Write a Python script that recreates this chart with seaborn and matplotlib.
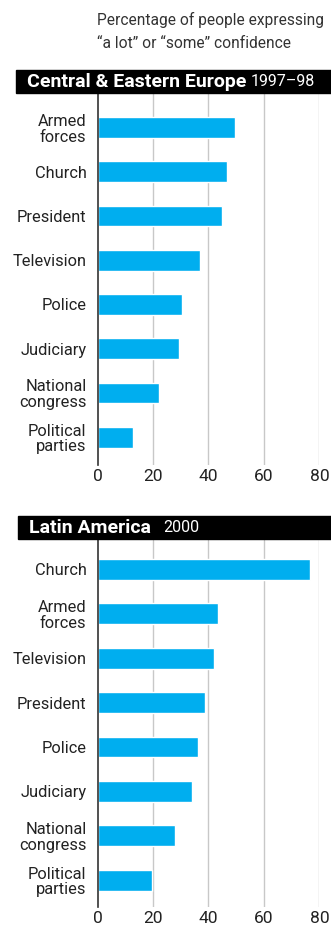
import matplotlib
matplotlib.use("Agg")
import matplotlib.pyplot as plt
import seaborn as sns
import pandas as pd
from matplotlib.patches import Rectangle

# ---- data ----
cee_labels = ["Armed\nforces", "Church", "President", "Television", "Police",
              "Judiciary", "National\ncongress", "Political\nparties"]
cee_values = [49.5, 46.7, 44.8, 36.9, 30.5, 29.4, 22.2, 12.8]

la_labels = ["Church", "Armed\nforces", "Television", "President", "Police",
             "Judiciary", "National\ncongress", "Political\nparties"]
la_values = [76.5, 43.4, 41.9, 38.7, 36.2, 34.0, 27.9, 19.8]

x_ticks = [0, 20, 40, 60, 80]
subtitle = "Percentage of people expressing\n\u201ca lot\u201d or \u201csome\u201d confidence"
titles = [("Central & Eastern Europe", "1997\u201398"), ("Latin America", "2000")]

BAR = "#00AEEF"
W, H = 331, 926

sns.set_theme(style="white")
plt.rcParams["font.family"] = ["Roboto", "DejaVu Sans"]

fig = plt.figure(figsize=(W / 100, H / 100), dpi=100)

def fy(p):
    return 1 - p / H

def fx(p):
    return p / W

left = fx(97.5)
right = fx(319.5)

panels = [
    (cee_labels, cee_values, 93, 465, (7.63, -0.78), 70, 16, 4),
    (la_labels, la_values, 540, 907, (7.6, -0.66), 516, 18, 12),
]

for i, (labels, values, top, bot, ylim, bar_top, bar_left, gap) in enumerate(panels):
    ax = fig.add_axes([left, fy(bot), right - left, fy(top) - fy(bot)])
    df = pd.DataFrame({"label": labels, "value": values})
    sns.barplot(data=df, y="label", x="value", orient="h", color=BAR,
                width=0.47, saturation=1, ax=ax, zorder=3)
    ax.set_xlim(0, 80)
    ax.set_ylim(*ylim)
    ax.set_xticks(x_ticks)
    ax.set_xlabel("")
    ax.set_ylabel("")
    for x in x_ticks[1:]:
        ax.axvline(x, color="#c8c8c8", lw=1.0, zorder=1)
    for s in ["top", "right", "bottom"]:
        ax.spines[s].set_visible(False)
    ax.spines["left"].set_color("#333333")
    ax.spines["left"].set_linewidth(1.2)
    ax.spines["left"].set_zorder(4)
    ax.tick_params(axis="y", length=0, labelsize=11.8, colors="#222222", pad=8)
    ax.tick_params(axis="x", length=0, labelsize=12.5, colors="#222222", pad=3)
    for t in ax.get_yticklabels():
        t.set_linespacing(1.05)
        t.set_horizontalalignment("right")
    # black title bar
    fig.patches.append(Rectangle((fx(bar_left), fy(bar_top + 23)), 1 - fx(bar_left),
                                 fy(bar_top) - fy(bar_top + 23),
                                 transform=fig.transFigure, color="black", zorder=5))
    bold, reg = titles[i]
    tb = fig.text(fx(bar_left + 11), fy(bar_top + 12), bold, color="white",
                  fontsize=14.0, fontweight="bold", va="center", ha="left", zorder=6)
    fig.canvas.draw()
    bb = tb.get_window_extent()
    fig.text(bb.x1 / W + fx(gap), fy(bar_top + 12), reg, color="white",
             fontsize=11.5, va="center", ha="left", zorder=6)

fig.text(fx(97), fy(12), subtitle, fontsize=11.2, color="#333333",
         va="top", ha="left", linespacing=1.65)

fig.savefig("out.png", dpi=100)
